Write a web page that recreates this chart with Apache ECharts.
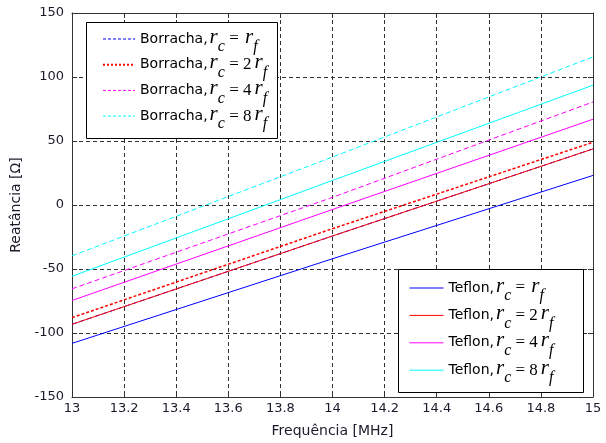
<!DOCTYPE html>
<html>
<head>
<meta charset="utf-8">
<script src="https://cdn.jsdelivr.net/npm/echarts@6/dist/echarts.min.js"></script>
<style>
html,body{margin:0;padding:0;background:#fff;}
#chart{width:606px;height:443px;}
</style>
</head>
<body>
<div id="chart"></div>
<script>
// ---- data ----
const freq = [13, 14, 15];
const teflon1 = [-108.1, -42.0, 23.1];
const teflon2 = [-93.2, -24.2, 43.8];
const teflon4 = [-74.6, -3.5, 67.0];
const teflon8 = [-55.7, 19.2, 93.6];
const borracha1 = [-93.2, -24.2, 43.8];
const borracha2 = [-88.0, -18.5, 49.0];
const borracha4 = [-65.5, 6.0, 80.5];
const borracha8 = [-39.7, 37.5, 115.7];
const multipliers = ['', '2', '4', '8'];
const borrachaNames = ['Borracha, rc = rf', 'Borracha, rc = 2rf', 'Borracha, rc = 4rf', 'Borracha, rc = 8rf'];
const teflonNames = ['Teflon, rc = rf', 'Teflon, rc = 2rf', 'Teflon, rc = 4rf', 'Teflon, rc = 8rf'];
const xTitle = 'Frequência [MHz]';
const yTitle = 'Reatância [Ω]';

// ---- helpers ----
const pts = v => freq.map((f, i) => [f, v[i]]);
const sans = 'DejaVu Sans';
const serif = 'Liberation Serif';

function eqLabel(name) {
  let idx = borrachaNames.indexOf(name);
  let prefix = 'Borracha,';
  if (idx < 0) { idx = teflonNames.indexOf(name); prefix = 'Teflon,'; }
  const m = multipliers[idx];
  return '{t|' + prefix + '}{r|r}{s|c}{e| = }' + (m ? '{m|' + m + '}' : '') + '{r|r}{s|f}';
}
const rich = {
  t: { fontFamily: sans, fontSize: 14, color: '#000', lineHeight: 20 },
  r: { fontFamily: serif, fontStyle: 'italic', fontSize: 21, color: '#000', lineHeight: 20, padding: [0, 0, 4, 2] },
  s: { fontFamily: serif, fontStyle: 'italic', fontSize: 16, color: '#000', lineHeight: 20, padding: [16, 0, 0, 0] },
  e: { fontFamily: serif, fontSize: 17, color: '#000', lineHeight: 20 },
  m: { fontFamily: serif, fontSize: 17, color: '#000', lineHeight: 20, padding: [0, 1, 0, 0] }
};

function mkSeries(name, vals, color, type, width) {
  return {
    name: name, type: 'line', data: pts(vals), symbol: 'none', silent: true,
    lineStyle: { color: color, width: width, type: type },
    itemStyle: { color: color }
  };
}
function legendItems(names, styles) {
  return names.map((n, i) => ({ name: n, lineStyle: styles[i] }));
}

const axisColor = '#333';
const gridStyle = { type: [4, 3], color: '#333', width: 1 };
const tickFont = { fontFamily: sans, fontSize: 13, color: '#1a1a2a' };

const chart = echarts.init(document.getElementById('chart'), null, { renderer: 'canvas' });
chart.setOption({
  animation: false,
  backgroundColor: '#fff',
  grid: { left: 72, right: 13, top: 13, bottom: 43 },
  xAxis: [{
    type: 'value', min: 13, max: 15, interval: 0.2, position: 'bottom',
    axisLine: { onZero: false, lineStyle: { color: axisColor } },
    axisTick: { inside: true, length: 5, lineStyle: { color: axisColor } },
    axisLabel: Object.assign({ margin: 5, formatter: v => String(+v.toFixed(1)) }, tickFont),
    splitLine: { show: true, lineStyle: gridStyle },
    name: xTitle, nameLocation: 'middle', nameGap: 27,
    nameTextStyle: { fontFamily: sans, fontSize: 14, color: '#1a1a2a' }
  }, {
    type: 'value', min: 13, max: 15, interval: 0.2, position: 'top',
    axisLine: { onZero: false, lineStyle: { color: axisColor } },
    axisTick: { inside: true, length: 5, lineStyle: { color: axisColor } },
    axisLabel: { show: false }, splitLine: { show: false }
  }],
  yAxis: [{
    type: 'value', min: -150, max: 150, interval: 50, position: 'left',
    axisLine: { show: true, onZero: false, lineStyle: { color: axisColor } },
    axisTick: { show: true, inside: true, length: 5, lineStyle: { color: axisColor } },
    axisLabel: Object.assign({ margin: 8 }, tickFont),
    splitLine: { show: true, lineStyle: gridStyle },
    name: yTitle, nameLocation: 'middle', nameGap: 44, nameRotate: 90,
    nameTextStyle: { fontFamily: sans, fontSize: 14, color: '#1a1a2a' }
  }, {
    type: 'value', min: -150, max: 150, interval: 50, position: 'right',
    axisLine: { show: true, onZero: false, lineStyle: { color: axisColor } },
    axisTick: { show: true, inside: true, length: 5, lineStyle: { color: axisColor } },
    axisLabel: { show: false }, splitLine: { show: false }
  }],
  graphic: [
    { type: 'rect', z: 3, shape: { x: 86.5, y: 22.5, width: 191, height: 116 }, style: { fill: '#fff', stroke: '#000', lineWidth: 1 } },
    { type: 'rect', z: 3, shape: { x: 398.5, y: 269.5, width: 185, height: 123 }, style: { fill: '#fff', stroke: '#000', lineWidth: 1 } }
  ],
  legend: [{
    data: legendItems(borrachaNames, [
      { width: 1, type: [3, 2] }, { width: 2, type: [2, 2] }, { width: 1, type: [3, 2] }, { width: 1, type: [3, 2] }
    ]),
    orient: 'vertical', left: 102, top: 23, itemGap: -6.3,
    itemWidth: 32, itemHeight: 14, padding: 0, selectedMode: false, z: 5,
    itemStyle: { opacity: 0 },
    formatter: eqLabel, textStyle: { rich: rich }
  }, {
    data: legendItems(teflonNames, [{ width: 1 }, { width: 1 }, { width: 1 }, { width: 1 }]),
    orient: 'vertical', left: 409, top: 272, itemGap: -4.6,
    itemWidth: 34, itemHeight: 14, padding: 0, selectedMode: false, z: 5,
    itemStyle: { opacity: 0 },
    formatter: eqLabel, textStyle: { rich: rich }
  }],
  series: [
    mkSeries(borrachaNames[0], borracha1, '#0000ff', [5, 3], 1),
    mkSeries(borrachaNames[1], borracha2, '#ff0000', [3, 2], 1.5),
    mkSeries(borrachaNames[2], borracha4, '#ff00ff', [5, 3], 1),
    mkSeries(borrachaNames[3], borracha8, '#00ffff', [5, 3], 1),
    mkSeries(teflonNames[0], teflon1, '#0000ff', 'solid', 1),
    mkSeries(teflonNames[1], teflon2, '#ff0000', 'solid', 1),
    mkSeries(teflonNames[2], teflon4, '#ff00ff', 'solid', 1),
    mkSeries(teflonNames[3], teflon8, '#00ffff', 'solid', 1)
  ]
});
</script>
</body>
</html>
